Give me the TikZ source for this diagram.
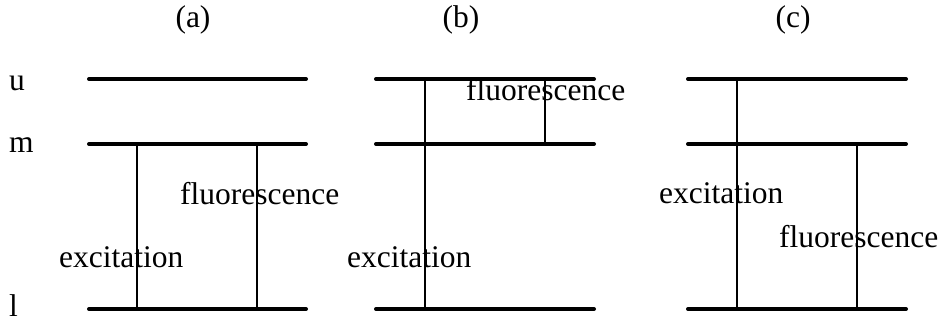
\documentclass[tikz,border=0pt]{standalone}
\usepackage{fontspec}
\setmainfont{Liberation Serif}
\begin{document}
\begin{tikzpicture}[x=1pt,y=-1pt,
  level/.style={line width=4pt,line cap=round},
  trans/.style={line width=1.8pt},
  lbl/.style={anchor=base west,inner sep=0pt,font=\fontsize{31.5}{36}\selectfont},
  ttl/.style={anchor=base,inner sep=0pt,font=\fontsize{31.5}{36}\selectfont}]
\useasboundingbox (0,0) rectangle (944,322);
% level y values: u=79, m=144, l=309
% panel (a)
\coordinate (au1) at (89,79);  \coordinate (au2) at (306,79);
\coordinate (am1) at (89,144); \coordinate (am2) at (306,144);
\coordinate (al1) at (89,309); \coordinate (al2) at (306,309);
\draw[level] (au1) -- (au2);
\draw[level] (am1) -- (am2);
\draw[level] (al1) -- (al2);
\coordinate (aet) at (137,144); \coordinate (aeb) at (137,309);
\coordinate (aft) at (257,144); \coordinate (afb) at (257,309);
\draw[trans] (aet) -- (aeb);
\draw[trans] (aft) -- (afb);
\node[lbl] (afl) at (180,204) {fluorescence};
\node[lbl] (ael) at (59,267) {excitation};
\node[ttl] (ta) at (193,27) {(a)};
% panel (b)
\coordinate (bu1) at (376,79);  \coordinate (bu2) at (594,79);
\coordinate (bm1) at (376,144); \coordinate (bm2) at (594,144);
\coordinate (bl1) at (376,309); \coordinate (bl2) at (594,309);
\draw[level] (bu1) -- (bu2);
\draw[level] (bm1) -- (bm2);
\draw[level] (bl1) -- (bl2);
\coordinate (bet) at (425,79); \coordinate (beb) at (425,309);
\coordinate (bft) at (545,79); \coordinate (bfb) at (545,144);
\draw[trans] (bet) -- (beb);
\draw[trans] (bft) -- (bfb);
\node[lbl] (bfl) at (466,100) {fluorescence};
\node[lbl] (bel) at (347,267) {excitation};
\node[ttl] (tb) at (461,27) {(b)};
% panel (c)
\coordinate (cu1) at (688,79);  \coordinate (cu2) at (906,79);
\coordinate (cm1) at (688,144); \coordinate (cm2) at (906,144);
\coordinate (cl1) at (688,309); \coordinate (cl2) at (906,309);
\draw[level] (cu1) -- (cu2);
\draw[level] (cm1) -- (cm2);
\draw[level] (cl1) -- (cl2);
\coordinate (cet) at (737,79); \coordinate (ceb) at (737,309);
\coordinate (cft) at (857,144); \coordinate (cfb) at (857,309);
\draw[trans] (cet) -- (ceb);
\draw[trans] (cft) -- (cfb);
\node[lbl] (cel) at (659,203) {excitation};
\node[lbl] (cfl) at (779,247) {fluorescence};
\node[ttl] (tc) at (793,27) {(c)};
% level names
\node[lbl] (nu) at (9,90) {u};
\node[lbl] (nm) at (9,152) {m};
\node[lbl] (nl) at (9,316) {l};
\end{tikzpicture}
\end{document}
